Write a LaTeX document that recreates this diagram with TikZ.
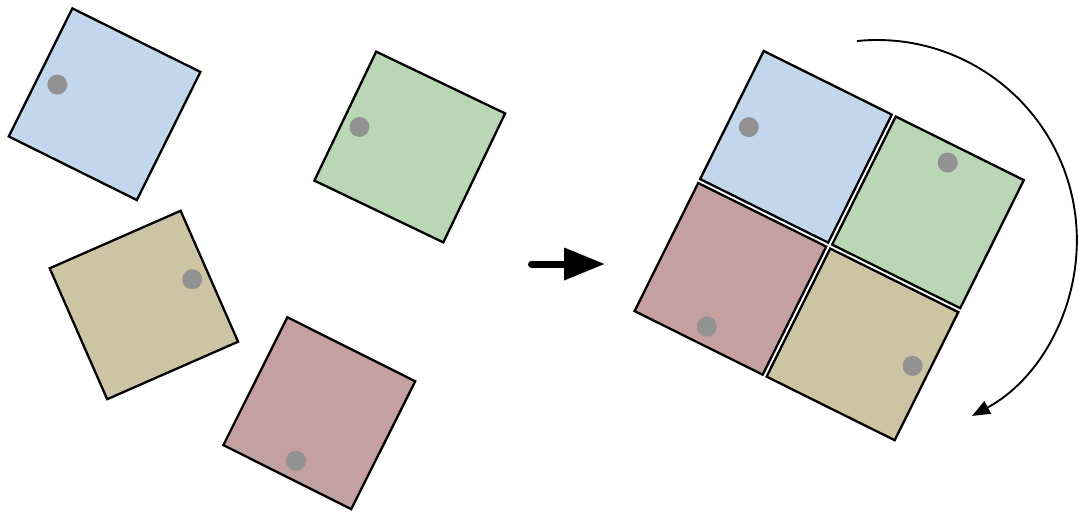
\documentclass[tikz,border=0pt]{standalone}
\usetikzlibrary{arrows.meta}

\definecolor{tileblue}{HTML}{C3D7EC}
\definecolor{tilegreen}{HTML}{B9D7B5}
\definecolor{tiletan}{HTML}{CCC4A2}
\definecolor{tilered}{HTML}{C5A0A0}
\definecolor{markgray}{HTML}{929292}

% one square tile with its marker dot: centre x, centre y, rotation, fill, dot x, dot y
\newcommand{\drawtile}[6]{%
  \begin{scope}[shift={(#1,#2)}, rotate=#3]
    \filldraw[tile, fill=#4] (-71.5,-71.5) -- (71.5,-71.5) -- (71.5,71.5) -- (-71.5,71.5) -- cycle;
    \fill[marker] (#5,#6) circle[radius=10];
  \end{scope}}

\begin{document}
\begin{tikzpicture}[x=0.02cm, y=0.02cm,
    tile/.style={draw=black, line width=0.046cm, line join=miter},
    marker/.style={markgray},
    push/.style={line width=0.14cm, line cap=round, -{Triangle[length=0.82cm, width=0.62cm]}},
    turn/.style={line width=0.038cm, -{Triangle[length=0.36cm, width=0.28cm]}}]
  \useasboundingbox (0,0) rectangle (1078,-511);

  % scattered tiles
  \drawtile{104.6}{-104.2}{-26.4}{tileblue}{-51}{-3.5}
  \drawtile{409.75}{-147}{-25.6}{tilegreen}{-54}{-3.7}
  \drawtile{143.9}{-305}{23.7}{tiletan}{54.6}{4.1}
  \drawtile{319.3}{-413.2}{-26.6}{tilered}{0.4}{-52.9}

  % arrow between the two states
  \coordinate (pushtail) at (531.5,-264);
  \coordinate (pushhead) at (605,-264);
  \draw[push] (pushtail) -- (pushhead);

  % assembled 2x2 block
  \begin{scope}[shift={(829.2,-245.6)}, rotate=-26.4]
    \drawtile{-73.7}{73.7}{0}{tileblue}{-51}{-3.3}
    \drawtile{73.7}{73.7}{0}{tilegreen}{-4.5}{53.4}
    \drawtile{-73.7}{-73.7}{0}{tilered}{0}{-53.3}
    \drawtile{73.7}{-73.7}{0}{tiletan}{54.4}{3}
  \end{scope}

  % clockwise rotation arrow
  \coordinate (turnstart) at (857,-41);
  \draw[turn] (turnstart) arc[start angle=95.7, end angle=-61.6, radius=200];
\end{tikzpicture}
\end{document}
